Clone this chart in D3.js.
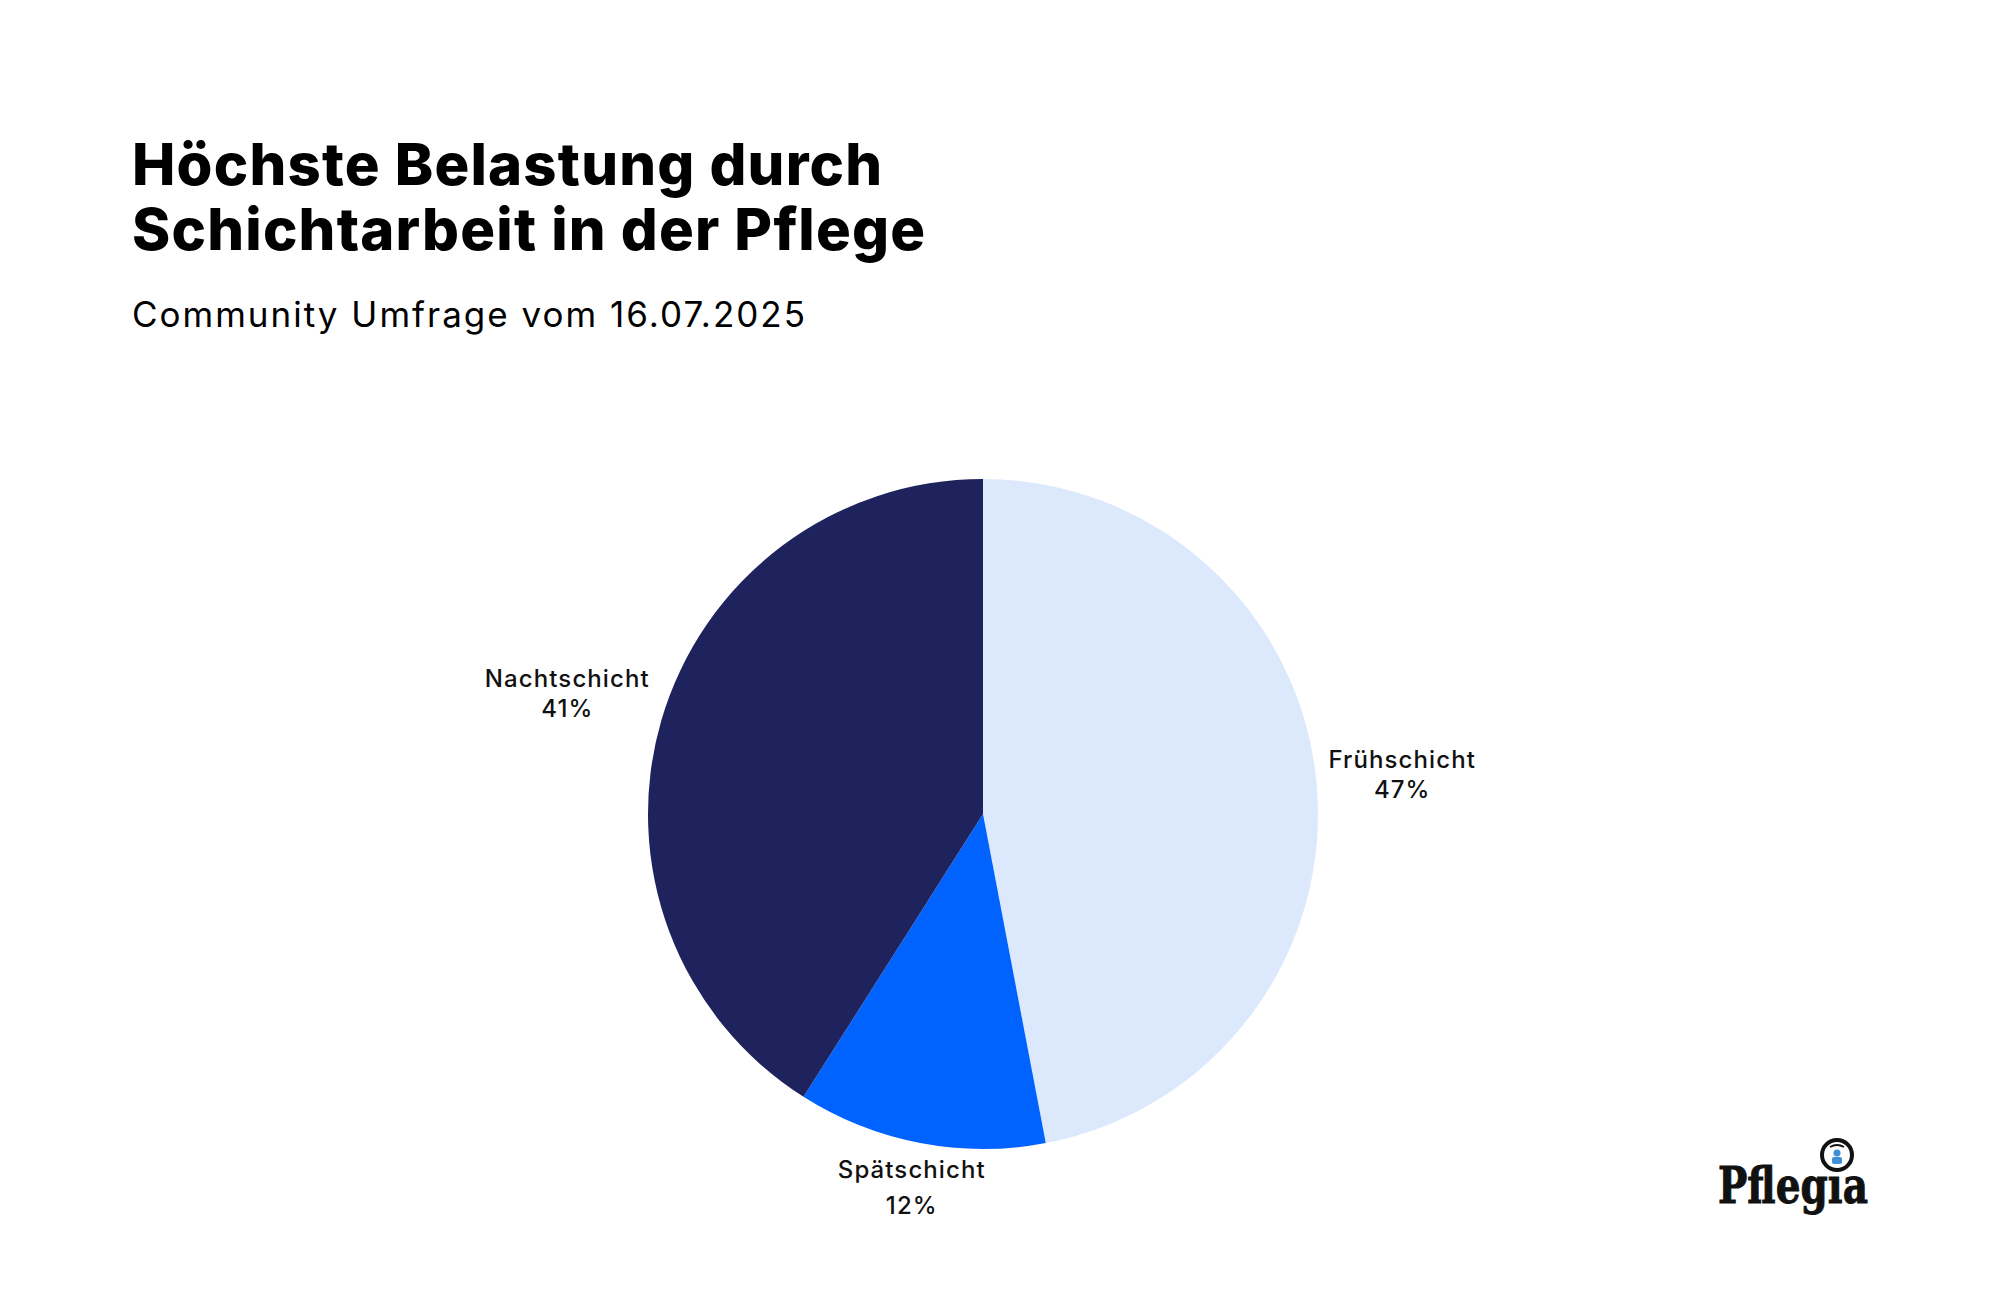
<!DOCTYPE html>
<html>
<head>
<meta charset="utf-8">
<script src="https://cdn.jsdelivr.net/npm/d3@7"></script>
<style>
  html, body { margin: 0; padding: 0; background: #fff; }
  svg { display: block; font-family: Inter, "Open Sans", sans-serif; }
</style>
</head>
<body>
<svg id="chart"></svg>
<script>
const categories = ['Frühschicht', 'Spätschicht', 'Nachtschicht'];
const values = [47, 12, 41];
const colors = ['#dce9fd', '#0062ff', '#1f235d'];
const titleLines = ['Höchste Belastung durch', 'Schichtarbeit in der Pflege'];
const subtitle = 'Community Umfrage vom 16.07.2025';

const width = 2000;
const height = 1304;
const cx = 983, cy = 814, radius = 335;

const svg = d3.select('#chart')
  .attr('width', width)
  .attr('height', height)
  .attr('viewBox', `0 0 ${width} ${height}`);

// Title
svg.append('g')
  .selectAll('text')
  .data(titleLines)
  .join('text')
  .attr('x', 132)
  .attr('y', (d, i) => 185 + i * 65)
  .attr('font-size', 58)
  .attr('font-weight', 800)
  .attr('letter-spacing', 1.2)
  .attr('fill', '#000')
  .text(d => d);

svg.append('text')
  .attr('x', 132)
  .attr('y', 327)
  .attr('font-size', 35)
  .attr('font-weight', 400)
  .attr('letter-spacing', 2)
  .attr('fill', '#000')
  .text(subtitle);

// Pie
const data = categories.map((c, i) => ({ name: c, value: values[i], color: colors[i] }));
const pie = d3.pie().value(d => d.value).sort(null);
const arc = d3.arc().innerRadius(0).outerRadius(radius);
const arcs = pie(data);

const g = svg.append('g').attr('transform', `translate(${cx},${cy})`);

g.selectAll('path')
  .data(arcs)
  .join('path')
  .attr('d', arc)
  .attr('fill', d => d.data.color);

// Labels: placed outside, box edge touching radius + gap along mid-angle
const gap = 12;
const labels = g.selectAll('g.label')
  .data(arcs)
  .join('g')
  .attr('class', 'label');

labels.each(function(d) {
  const lg = d3.select(this);
  // the bottom label sits a little looser in the reference
  const lineH = d.data.name === 'Spätschicht' ? 36 : 30;
  const t = lg.append('text')
    .attr('text-anchor', 'middle')
    .attr('font-size', 24)
    .attr('font-weight', 500)
    .attr('letter-spacing', 1.1)
    .attr('fill', '#111');
  t.append('tspan').attr('x', 0).attr('y', -lineH / 2 + 8).text(d.data.name);
  t.append('tspan').attr('x', 0).attr('y', lineH / 2 + 8).text(`${d.data.value}%`);

  const bb = t.node().getBBox();
  const mid = (d.startAngle + d.endAngle) / 2;
  const dx = Math.sin(mid), dy = -Math.cos(mid);
  const hw = bb.width / 2, hh = bb.height / 2;
  const tx = Math.min(Math.abs(dx) > 1e-6 ? hw / Math.abs(dx) : Infinity,
                      Math.abs(dy) > 1e-6 ? hh / Math.abs(dy) : Infinity);
  const dist = radius + gap + tx;
  const ccx = bb.x + hw, ccy = bb.y + hh;
  lg.attr('transform', `translate(${dx * dist - ccx},${dy * dist - ccy})`);
});

// Logo
const logo = svg.append('g').attr('transform', 'translate(1718,1203)');
logo.append('text')
  .attr('x', 0)
  .attr('y', 0)
  .attr('font-family', '"DejaVu Serif", serif')
  .attr('font-weight', 700)
  .attr('font-size', 50)
  .attr('textLength', 150)
  .attr('lengthAdjust', 'spacingAndGlyphs')
  .attr('fill', '#111')
  .attr('stroke', '#111')
  .attr('stroke-width', 1)
  .text('Pflegıa');
logo.append('circle')
  .attr('cx', 119)
  .attr('cy', -48)
  .attr('r', 15)
  .attr('fill', '#fff')
  .attr('stroke', '#111')
  .attr('stroke-width', 4);
logo.append('circle').attr('cx', 119).attr('cy', -50).attr('r', 3.5).attr('fill', '#3d8fd6');
logo.append('rect').attr('x', 114).attr('y', -46).attr('width', 10).attr('height', 7).attr('rx', 2).attr('fill', '#3d8fd6');
logo.append('path')
  .attr('d', 'M112,-56 Q119,-60 126,-56')
  .attr('fill', 'none')
  .attr('stroke', '#111')
  .attr('stroke-width', 2);
</script>
</body>
</html>
